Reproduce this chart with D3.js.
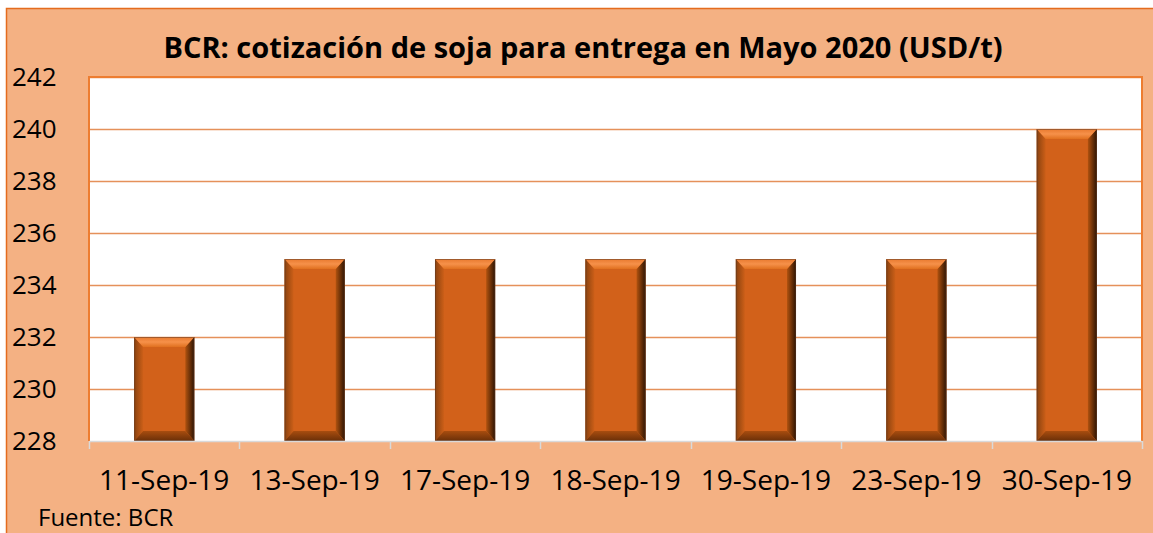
<!DOCTYPE html>
<meta charset="utf-8">
<style>
body { margin: 0; background: #fff; }
text { font-family: "Open Sans", sans-serif; fill: #000; }
</style>
<svg width="1153" height="533"></svg>
<script src="https://d3js.org/d3.v7.min.js"></script>
<script>

var dates = ["11-Sep-19", "13-Sep-19", "17-Sep-19", "18-Sep-19", "19-Sep-19", "23-Sep-19", "30-Sep-19"];
var prices = [232, 235, 235, 235, 235, 235, 240];
var yTicks = [228, 230, 232, 234, 236, 238, 240, 242];
var title = "BCR: cotización de soja para entrega en Mayo 2020 (USD/t)";
var source = "Fuente: BCR";

var svg = d3.select("svg");

var margin = {top: 77, right: 11, bottom: 92, left: 89},
    width = 1153 - margin.left - margin.right,
    height = 533 - margin.top - margin.bottom;

var defs = svg.append("defs");

function grad(id, x2, y2, stops) {
  var g = defs.append("linearGradient").attr("id", id)
      .attr("x1", 0).attr("y1", 0).attr("x2", x2).attr("y2", y2);
  stops.forEach(function(s) {
    g.append("stop").attr("offset", s[0]).attr("stop-color", s[1]);
  });
}
grad("bev-top", 0, 1, [[0, "#e8792e"], [0.5, "#f6914a"], [1, "#e0701f"]]);
grad("bev-bottom", 0, 1, [[0, "#a84d0f"], [1, "#6a2f08"]]);
grad("bev-left", 1, 0, [[0, "#8a420f"], [1, "#cc5f18"]]);
grad("bev-right", 1, 0, [[0, "#b0520f"], [1, "#2e1403"]]);

// outer frame
svg.append("rect")
    .attr("x", 6.5).attr("y", 8.5)
    .attr("width", 1160).attr("height", 540)
    .attr("fill", "#f4b183")
    .attr("stroke", "#e46c1e")
    .attr("stroke-width", 1.5);

var g = svg.append("g")
    .attr("transform", "translate(" + margin.left + "," + margin.top + ")");

var x = d3.scaleBand()
    .domain(dates)
    .range([0, width])
    .paddingInner(0.6)
    .paddingOuter(0.3);

var y = d3.scaleLinear()
    .domain([228, 242])
    .range([height, 0]);

g.append("rect")
    .attr("width", width).attr("height", height)
    .attr("fill", "#fff");

g.selectAll(".grid")
  .data(yTicks.slice(1))
  .enter().append("line")
    .attr("x1", 0).attr("x2", width)
    .attr("y1", function(d) { return Math.round(y(d)) + 0.5; })
    .attr("y2", function(d) { return Math.round(y(d)) + 0.5; })
    .attr("stroke", "#e5915a")
    .attr("stroke-width", 1.3);

// plot border (left, top, right)
g.append("path")
    .attr("d", "M0," + height + "V0H" + width + "V" + height)
    .attr("fill", "none")
    .attr("stroke", "#ed7d31")
    .attr("stroke-width", 2);

var bar = g.selectAll(".bar")
  .data(dates.map(function(d, i) { return {date: d, value: prices[i]}; }))
  .enter().append("g")
    .attr("class", "bar");

var bv = 10, bs = 9;

bar.append("rect")
    .attr("x", function(d) { return x(d.date); })
    .attr("y", function(d) { return y(d.value); })
    .attr("width", x.bandwidth())
    .attr("height", function(d) { return height - y(d.value); })
    .attr("fill", "#d2611a");

function poly(d, side) {
  var x0 = x(d.date), x1 = x0 + x.bandwidth(), y0 = y(d.value), y1 = height;
  var p;
  if (side === "top") p = [[x0, y0], [x1, y0], [x1 - bs, y0 + bv], [x0 + bs, y0 + bv]];
  if (side === "bottom") p = [[x0, y1], [x1, y1], [x1 - bs, y1 - bv], [x0 + bs, y1 - bv]];
  if (side === "left") p = [[x0, y0], [x0 + bs, y0 + bv], [x0 + bs, y1 - bv], [x0, y1]];
  if (side === "right") p = [[x1, y0], [x1 - bs, y0 + bv], [x1 - bs, y1 - bv], [x1, y1]];
  return "M" + p.join("L") + "Z";
}

["left", "right", "bottom", "top"].forEach(function(side) {
  bar.append("path")
      .attr("d", function(d) { return poly(d, side); })
      .attr("fill", "url(#bev-" + side + ")");
});

bar.append("rect")
    .attr("x", function(d) { return x(d.date) + 0.5; })
    .attr("y", function(d) { return y(d.value) + 0.5; })
    .attr("width", x.bandwidth() - 1)
    .attr("height", function(d) { return height - y(d.value) - 1; })
    .attr("fill", "none")
    .attr("stroke", "#5a3a28")
    .attr("stroke-opacity", 0.5);

// x axis
var xAxis = g.append("g")
    .attr("transform", "translate(0," + height + ")")
    .call(d3.axisBottom(x).tickSize(0).tickPadding(29));
xAxis.select(".domain").attr("stroke", "#d9d9d9").attr("stroke-width", 1.5);
xAxis.selectAll("text")
    .style("font-size", "28px")
    .attr("fill", "#000");

g.selectAll(".xtick")
  .data(d3.range(dates.length + 1))
  .enter().append("line")
    .attr("x1", function(i) { return Math.round(i * width / dates.length) + 0.5; })
    .attr("x2", function(i) { return Math.round(i * width / dates.length) + 0.5; })
    .attr("y1", height)
    .attr("y2", height + 8)
    .attr("stroke", "#d9d9d9")
    .attr("stroke-width", 1.5);

// y labels
g.selectAll(".ylab")
  .data(yTicks)
  .enter().append("text")
    .attr("x", -77)
    .attr("y", function(d) { return y(d); })
    .attr("dy", "0.36em")
    .style("font-size", "26px")
    .text(function(d) { return d; });

svg.append("text")
    .attr("x", 583)
    .attr("y", 58)
    .attr("text-anchor", "middle")
    .style("font-size", "29px")
    .style("font-weight", "bold")
    .text(title);

svg.append("text")
    .attr("x", 38)
    .attr("y", 526)
    .style("font-size", "24px")
    .text(source);

</script>
